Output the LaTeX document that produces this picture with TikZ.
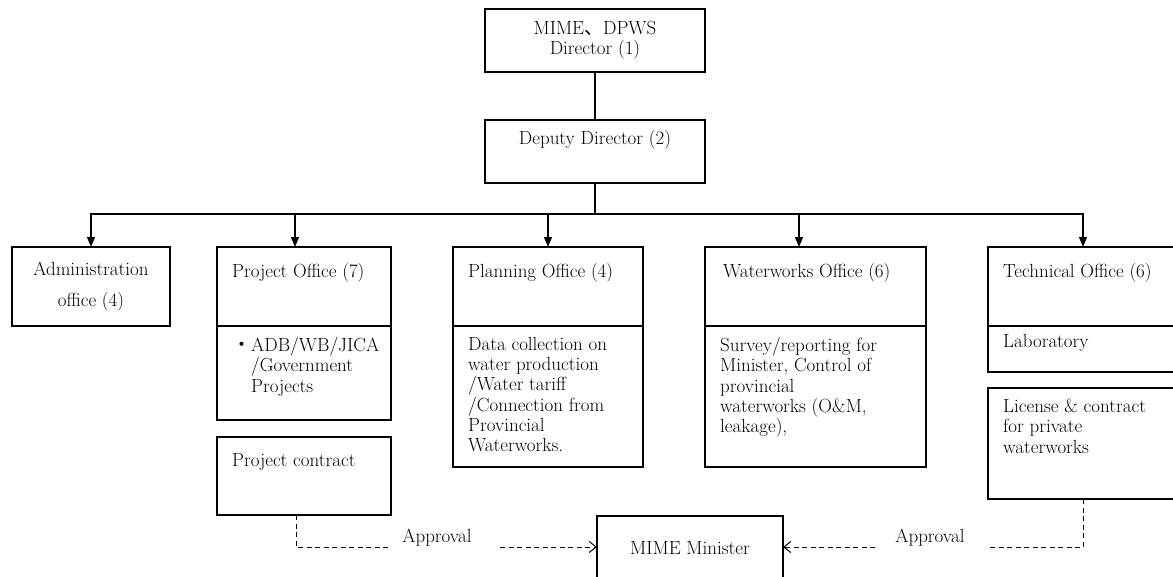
\documentclass[tikz,border=0pt]{standalone}
\usepackage{fontspec}
\newfontfamily\cjk{Noto Sans CJK JP}
\usetikzlibrary{arrows.meta,positioning,calc}
\tikzset{
  box/.style={draw, line width=1.2pt, anchor=north west, inner sep=0pt, outer sep=0pt},
  lbl/.style={anchor=north west, inner sep=0pt, align=left},
  arr/.style={line width=1.2pt, -{Triangle[length=10pt,width=8pt]}},
  dsh/.style={line width=1pt, dash pattern=on 5pt off 3.5pt},
  dtip/.style={dsh, -{Straight Barb[length=7pt,width=11pt]}}
}
\begin{document}
\begin{tikzpicture}[x=1pt, y=-1pt, font=\fontsize{19pt}{20.3pt}\selectfont]
\useasboundingbox (0,0) rectangle (1173,576);
\clip (0,0) rectangle (1173,576);
% ---------------- director and deputy ----------------
\node[box, minimum width=220pt, minimum height=63pt, align=center] (dir) at (485,9)
  {MIME{\cjk 、}DPWS\\Director (1)};
\node[box, minimum width=220pt, minimum height=63pt] (dep) at (485,120) {};
\node[inner sep=0pt] (depL) at ($(dep.north)+(0,20)$) {Deputy Director (2)};
\draw[line width=1.2pt] (dir) -- (dep);
\coordinate (bus) at ($(dep.south)+(0,31)$);
\draw[line width=1.2pt] (dep) -- (bus);
% ---------------- offices ----------------
\node[box, minimum width=158pt, minimum height=79pt, align=center] (admin) at (12,247)
  {Administration\\[10.7pt]office (4)};
\node[box, minimum width=174pt, minimum height=79pt] (proj) at (217,247) {};
\node[box, minimum width=174pt, minimum height=94pt] (projB) at (proj.south west) {};
\node[box, minimum width=174pt, minimum height=78pt] (contract) at (217,437) {};
\node[box, minimum width=190pt, minimum height=79pt] (plan) at (453,247) {};
\node[box, minimum width=190pt, minimum height=141pt] (planB) at (plan.south west) {};
\node[box, minimum width=221pt, minimum height=79pt] (water) at (705,247) {};
\node[box, minimum width=221pt, minimum height=141pt] (waterB) at (water.south west) {};
\node[box, minimum width=190pt, minimum height=79pt] (tech) at (988,247) {};
\node[box, minimum width=190pt, minimum height=46pt] (lab) at (tech.south west) {};
\node[box, minimum width=190pt, minimum height=111pt] (license) at (988,388) {};
\node[box, minimum width=186pt, minimum height=64pt] (minister) at (597,516) {MIME Minister};
% ---------------- texts ----------------
\node[lbl] (projL) at ($(proj.north west)+(15,16)$) {Project Office (7)};
\node[lbl] (projBL) at ($(projB.north west)+(15,11)$)
  {{\cjk ・}ADB/WB/JICA\\\hphantom{\cjk ・}/Government\\\hphantom{\cjk ・}Projects};
\node[lbl] (contractL) at ($(contract.north west)+(15,16)$) {Project contract};
\node[lbl] (planL) at ($(plan.north west)+(15,16)$) {Planning Office (4)};
\node[lbl] (planBL) at ($(planB.north west)+(15,11)$)
  {Data collection on\\water production\\/Water tariff\\/Connection from\\Provincial\\Waterworks.};
\node[lbl] (waterL) at ($(water.north west)+(18,16)$) {Waterworks Office (6)};
\node[lbl] (waterBL) at ($(waterB.north west)+(15,11)$)
  {Survey/reporting for\\Minister, Control of\\provincial\\waterworks (O\&M,\\leakage),};
\node[lbl] (techL) at ($(tech.north west)+(15,16)$) {Technical Office (6)};
\node[lbl] (labL) at ($(lab.north west)+(15,8)$) {Laboratory};
\node[lbl] (licenseL) at ($(license.north west)+(15,11)$)
  {License \& contract\\for private\\waterworks};
% ---------------- connectors ----------------
\foreach \n/\dx in {admin/0, proj/-9, plan/0, water/-16.5, tech/0}{
  \draw[arr] (bus) -| ([xshift=\dx pt]\n.north);}
\coordinate (lA) at (390,547);
\coordinate (lB) at (500,547);
\draw[dsh] ([xshift=-8pt]contract.south) |- (lA);
\draw[dtip] (lB) -- (minister.west |- lB);
\node (apprL) at (437,538) {Approval};
\coordinate (rA) at (988,547);
\coordinate (rB) at (875,547);
\draw[dsh] (license.south) |- (rA);
\draw[dtip] (rB) -- (minister.east |- rB);
\node (apprR) at (930,538) {Approval};
\end{tikzpicture}
\end{document}
